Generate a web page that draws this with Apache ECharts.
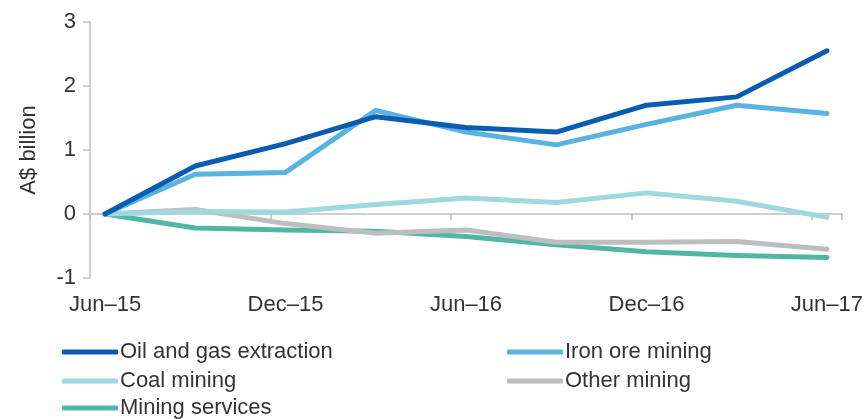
<!DOCTYPE html>
<html>
<head>
<meta charset="utf-8">
<script src="https://cdn.jsdelivr.net/npm/echarts@6/dist/echarts.min.js"></script>
<style>html,body{margin:0;padding:0;background:#fff}#c{width:868px;height:419px}</style>
</head>
<body>
<div id="c"></div>
<script>
var months = ['Jun–15','Jul–15','Aug–15','Sep–15','Oct–15','Nov–15','Dec–15','Jan–16','Feb–16','Mar–16','Apr–16','May–16','Jun–16','Jul–16','Aug–16','Sep–16','Oct–16','Nov–16','Dec–16','Jan–17','Feb–17','Mar–17','Apr–17','May–17','Jun–17'];
var quarters = ['Jun–15','Sep–15','Dec–15','Mar–16','Jun–16','Sep–16','Dec–16','Mar–17','Jun–17'];
var oilGas   = [0, 0.75, 1.10, 1.52, 1.35, 1.28, 1.70, 1.83, 2.55];
var ironOre  = [0, 0.62, 0.65, 1.62, 1.28, 1.08, 1.40, 1.70, 1.57];
var coal     = [0, 0.04, 0.03, 0.15, 0.25, 0.18, 0.33, 0.20, -0.05];
var other    = [0, 0.07, -0.15, -0.30, -0.25, -0.44, -0.44, -0.43, -0.55];
var services = [0, -0.22, -0.25, -0.27, -0.35, -0.48, -0.59, -0.65, -0.68];
var yTicks = [-1, 0, 1, 2, 3];

var names = ['Oil and gas extraction','Iron ore mining','Coal mining','Other mining','Mining services'];
var colors = ['#0A5CB0','#58B3E0','#9ED8E0','#BCBEC0','#50B8A0'];
var values = [oilGas, ironOre, coal, other, services];

function pairs(v){ return quarters.map(function(q,i){ return [q, v[i]]; }); }

var series = names.map(function(n,i){
  return {
    name: n, type: 'line', data: pairs(values[i]),
    xAxisIndex: 0, yAxisIndex: 0,
    symbol: 'none', smooth: false,
    lineStyle: { width: 5, color: colors[i], cap: 'round', join: 'round' },
    itemStyle: { color: colors[i] },
    z: 10 - i
  };
});

var font = 'Liberation Sans, Arial, sans-serif';
var legendPos = [[62,341],[507,341],[62,370],[507,370],[62,397]];
var legends = names.map(function(n,i){
  return { data: [n], left: legendPos[i][0], top: legendPos[i][1], itemWidth: 56, itemHeight: 5,
    icon: 'roundRect', padding: 0,
    textStyle: { fontFamily: font, fontSize: 22, color: '#333', padding: [0,0,0,-3] } };
});

var chart = echarts.init(document.getElementById('c'), null, {renderer:'canvas'});
chart.setOption({
  animation: false,
  grid: { left: 90, right: 26, top: 22, bottom: 141, containLabel: false },
  legend: legends,
  xAxis: [
    { type: 'category', data: months, boundaryGap: true,
      axisLine: { onZero: true, lineStyle: { color: '#BFBFBF', width: 1.5 } },
      axisTick: { show: true, interval: 5, length: 6, inside: false, lineStyle: { color: '#BFBFBF', width: 1.5 } },
      axisLabel: { show: false }, splitLine: { show: false } },
    { type: 'category', data: months, boundaryGap: true, position: 'bottom',
      axisLine: { show: false, onZero: false }, axisTick: { show: false },
      axisLabel: { show: true, interval: 5, margin: 16, fontFamily: font, fontSize: 22, color: '#333' },
      splitLine: { show: false } }
  ],
  yAxis: {
    type: 'value', min: yTicks[0], max: yTicks[yTicks.length-1], interval: 1,
    name: 'A$ billion', nameLocation: 'middle', nameGap: 50, nameRotate: 90,
    nameTextStyle: { fontFamily: font, fontSize: 22, color: '#333' },
    axisLine: { show: true, lineStyle: { color: '#BFBFBF', width: 1.5 } },
    axisTick: { show: true, length: 7, lineStyle: { color: '#BFBFBF', width: 1.5 } },
    axisLabel: { margin: 14, fontFamily: font, fontSize: 22, color: '#333' },
    splitLine: { show: false }
  },
  series: series
});
</script>
</body>
</html>
